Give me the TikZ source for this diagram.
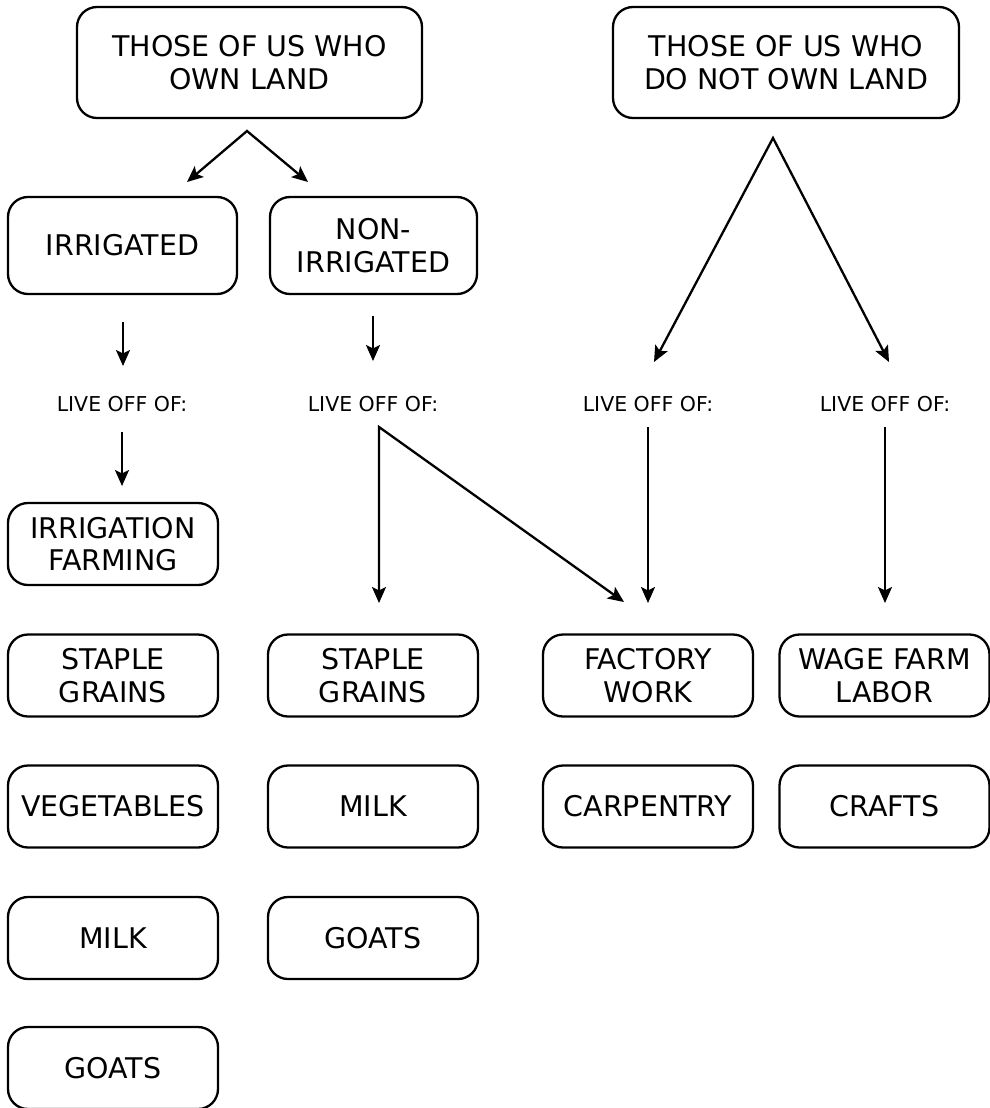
\documentclass[tikz,border=0pt]{standalone}
\usepackage{fontspec}
\setmainfont{DejaVu Sans}
\usetikzlibrary{arrows.meta}
\tikzset{
  box/.style={draw=black, line width=2.3pt, rounded corners=20pt, align=center,
    inner sep=0pt, font=\fontsize{28.5}{32.5}\selectfont},
  bigbox/.style={box, minimum width=345pt, minimum height=111pt},
  midbox/.style={box, minimum height=97pt},
  itembox/.style={box, minimum width=210pt, minimum height=82pt},
  livelbl/.style={inner sep=0pt, font=\fontsize{20.5}{24}\selectfont},
  tip/.style={},
  arr/.style={line width=2.3pt, -{Stealth[length=16pt,width=14pt,inset=3.5pt]}},
  darr/.style={line width=2.3pt, {Stealth[length=16pt,width=14pt,inset=3.5pt]}-{Stealth[length=16pt,width=14pt,inset=3.5pt]}}
}
\begin{document}
\begin{tikzpicture}[x=1pt,y=-1pt]
\useasboundingbox (0,0) rectangle (989,1108);
% top boxes
\node[bigbox] (own) at (249.5,62.5) {THOSE OF US WHO\\OWN LAND};
\node[bigbox, minimum width=346pt] (notown) at (786,62.5) {THOSE OF US WHO\\DO NOT OWN LAND};
\node[midbox, minimum width=229pt] (irr) at (122.5,245.5) {IRRIGATED};
\node[midbox, minimum width=207pt] (nonirr) at (373.5,245.5) {NON-\\IRRIGATED};
% labels
\node[livelbl] (live1) at (122,404) {LIVE OFF OF:};
\node[livelbl] (live2) at (373,404) {LIVE OFF OF:};
\node[livelbl] (live3) at (648,404) {LIVE OFF OF:};
\node[livelbl] (live4) at (885,404) {LIVE OFF OF:};
% item boxes
\node[itembox] (farm) at (113,544) {IRRIGATION\\FARMING};
\node[itembox] (sg1) at (113,675.5) {STAPLE\\GRAINS};
\node[itembox] (veg) at (113,806.5) {VEGETABLES};
\node[itembox] (milk1) at (113,938) {MILK};
\node[itembox] (goats1) at (113,1068) {GOATS};
\node[itembox] (sg2) at (373,675.5) {STAPLE\\GRAINS};
\node[itembox] (milk2) at (373,806.5) {MILK};
\node[itembox] (goats2) at (373,938) {GOATS};
\node[itembox] (factory) at (648,675.5) {FACTORY\\WORK};
\node[itembox] (carp) at (648,806.5) {CARPENTRY};
\node[itembox] (wage) at (884.5,675.5) {WAGE FARM\\LABOR};
\node[itembox] (crafts) at (884.5,806.5) {CRAFTS};
% connector coordinates
\coordinate (ownapex) at (247,131);
\coordinate (ownL) at (187,182);
\coordinate (ownR) at (308,182);
\coordinate (notapex) at (773,138);
\coordinate (notL) at (654,362);
\coordinate (notR) at (889,362);
\coordinate (irrS) at (123,322);
\coordinate (irrE) at (123,366);
\coordinate (nonS) at (373,316);
\coordinate (nonE) at (373,361);
\coordinate (l1S) at (122,432);
\coordinate (l1E) at (122,486);
\coordinate (l2S) at (379,427);
\coordinate (l2E) at (379,603);
\coordinate (l2D) at (624,602);
\coordinate (l3S) at (648,427);
\coordinate (l3E) at (648,603);
\coordinate (l4S) at (885,427);
\coordinate (l4E) at (885,603);
% connectors
\draw[darr] (ownL) -- (ownapex) -- (ownR);
\draw[darr] (notL) -- (notapex) -- (notR);
\draw[arr] (irrS) -- (irrE);
\draw[arr] (nonS) -- (nonE);
\draw[arr] (l1S) -- (l1E);
\draw[darr] (l2D) -- (l2S) -- (l2E);
\draw[arr] (l3S) -- (l3E);
\draw[arr] (l4S) -- (l4E);
\end{tikzpicture}
\end{document}
